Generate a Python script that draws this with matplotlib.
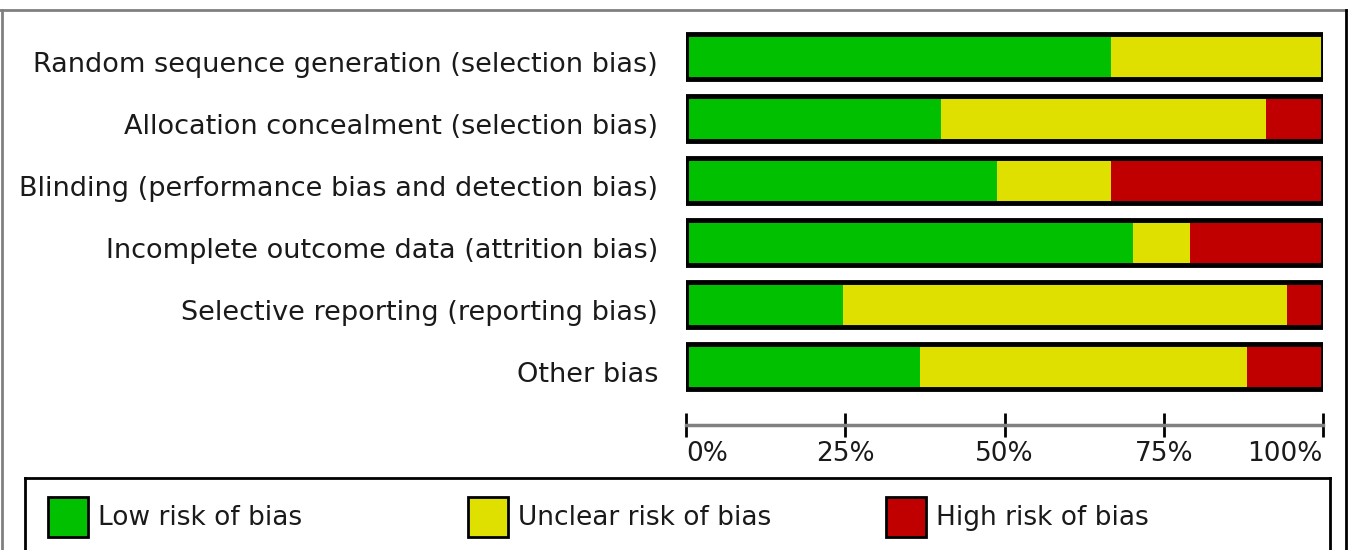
import matplotlib.pyplot as plt
from matplotlib.patches import Rectangle
from matplotlib.transforms import ScaledTranslation

# Risk of bias summary, percent of studies per domain
domains = [
    'Random sequence generation (selection bias)',
    'Allocation concealment (selection bias)',
    'Blinding (performance bias and detection bias)',
    'Incomplete outcome data (attrition bias)',
    'Selective reporting (reporting bias)',
    'Other bias',
]
low_risk = [66.7, 40.0, 48.8, 70.2, 24.6, 36.7]
unclear_risk = [33.3, 51.0, 17.9, 8.9, 69.8, 51.4]
high_risk = [0.0, 9.0, 33.3, 20.9, 5.6, 11.9]

tick_values = [0, 25, 50, 75, 100]
tick_labels = ['0%', '25%', '50%', '75%', '100%']

legend_labels = ['Low risk of bias', 'Unclear risk of bias', 'High risk of bias']
colors = ['#00C000', '#E0E000', '#C00000']

plt.rcParams['font.family'] = ['DejaVu Sans']
FS = 19
TXT = '#1a1a1a'

W, H = 1357, 550
fig = plt.figure(figsize=(W / 100, H / 100), dpi=100)

# outer frame of the panel
fig.add_artist(plt.Line2D([0, 1346 / W], [1 - 10 / H, 1 - 10 / H],
                          transform=fig.transFigure, color='#808080', lw=2))
fig.add_artist(plt.Line2D([2 / W, 2 / W], [0, 1 - 10 / H],
                          transform=fig.transFigure, color='#808080', lw=2))
fig.add_artist(plt.Line2D([1346 / W, 1346 / W], [0, 1 - 10 / H],
                          transform=fig.transFigure, color='black', lw=2))

# bar area: x 0..100 maps to px 686..1323, axis line at y=425 px
top_px, bot_px = 25, 425
ax = fig.add_axes([686 / W, 1 - bot_px / H, 637 / W, (bot_px - top_px) / H])
pitch = 62.0
row0 = 56.5
ax.set_ylim((bot_px - row0) / pitch, -(row0 - top_px) / pitch)
ax.set_xlim(0, 100)

ypos = list(range(len(domains)))
bar_h = 0.73
left = [0.0] * len(domains)
for vals, c in zip([low_risk, unclear_risk, high_risk], colors):
    ax.barh(ypos, vals, left=left, height=bar_h, color=c, edgecolor='none')
    left = [a + b for a, b in zip(left, vals)]
ax.barh(ypos, left, height=bar_h, fill=False, edgecolor='black', linewidth=3.5)

ax.set_yticks(ypos)
ax.set_yticklabels(domains, fontsize=19.5, color=TXT)
ax.tick_params(axis='y', length=0, pad=20)
shift = ScaledTranslation(0, -0.05, fig.dpi_scale_trans)
for lab in ax.get_yticklabels():
    lab.set_transform(lab.get_transform() + shift)

ax.set_xticks(tick_values)
ax.set_xticklabels(tick_labels, fontsize=FS, color=TXT)
ax.tick_params(axis='x', direction='inout', length=17, width=2, color='black', pad=3)
xl = ax.get_xticklabels()
xl[0].set_ha('left')
xl[-1].set_ha('right')

for s in ['top', 'left', 'right']:
    ax.spines[s].set_visible(False)
ax.spines['bottom'].set_color('#808080')
ax.spines['bottom'].set_linewidth(2.5)

# legend box along the bottom
lax = fig.add_axes([25 / W, -0.05, (1330 - 25) / W, 1 - 478 / H + 0.05])
lax.set_xticks([])
lax.set_yticks([])
for s in lax.spines.values():
    s.set_color('black')
    s.set_linewidth(2)
lax.set_xlim(25, 1330)
lax.set_ylim(H + 0.05 * H, 478)
for x0, lab, c in zip([48, 468, 886], legend_labels, colors):
    lax.add_patch(Rectangle((x0, 497), 40, 40, facecolor=c,
                            edgecolor='black', linewidth=2))
    lax.text(x0 + 50, 518, lab, fontsize=FS, color=TXT,
             ha='left', va='center')

fig.savefig('out.png', dpi=100)
